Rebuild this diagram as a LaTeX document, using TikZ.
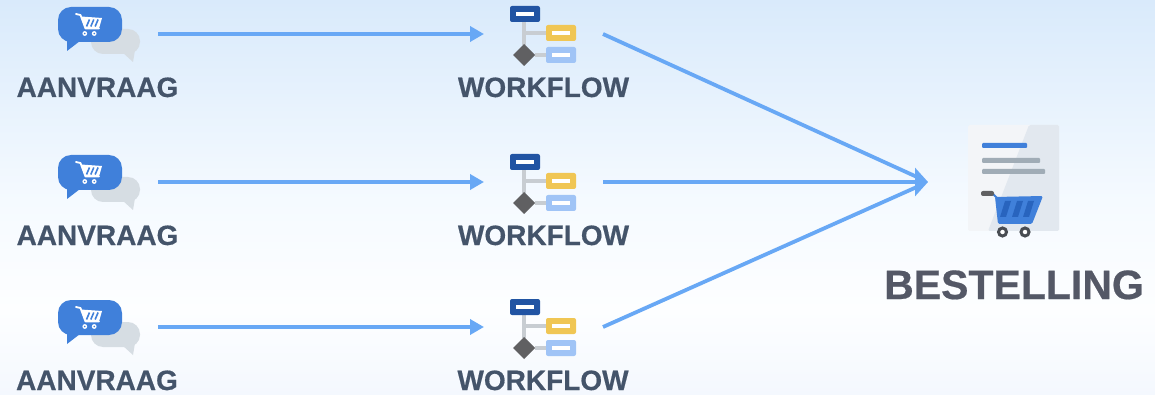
\documentclass[tikz,border=0pt]{standalone}
\usepackage{fontspec}
\setmainfont[BoldFeatures={FakeBold=0.5}]{Liberation Sans}
\usetikzlibrary{arrows.meta}
\definecolor{arrowblue}{RGB}{104,168,245}
\definecolor{cartblue}{RGB}{64,128,218}
\definecolor{slotblue}{RGB}{40,100,190}
\definecolor{bubblegray}{RGB}{214,221,227}
\definecolor{labelslate}{RGB}{68,84,106}
\definecolor{titleslate}{RGB}{84,88,102}
\definecolor{flownavy}{RGB}{33,84,163}
\definecolor{flowyellow}{RGB}{240,198,84}
\definecolor{flowlight}{RGB}{160,196,246}
\definecolor{flowline}{RGB}{200,205,210}
\definecolor{flowdiamond}{RGB}{96,96,98}
\definecolor{docfront}{RGB}{243,245,248}
\definecolor{docback}{RGB}{226,232,239}
\definecolor{docline}{RGB}{160,172,182}
\definecolor{wheelgray}{RGB}{72,76,82}
\definecolor{bgtop}{RGB}{217,234,251}
\definecolor{bgmid}{RGB}{245,250,255}
\definecolor{bglow}{RGB}{253,254,255}
\definecolor{bgbot}{RGB}{244,248,254}
\tikzset{
  x=1pt,y=-1pt,
  slot/.style={inner sep=0pt,outer sep=0pt,draw=none},
  reqbox/.style={slot,minimum width=100pt,minimum height=50pt},
  flowbox/.style={slot,minimum width=119pt,minimum height=50pt},
  docbox/.style={slot,minimum width=136pt,minimum height=50pt},
  lbl/.style={inner sep=0pt,text=labelslate,font=\fontsize{28}{28}\selectfont\bfseries,anchor=base},
  ttl/.style={inner sep=0pt,text=titleslate,font=\fontsize{41}{41}\selectfont\bfseries,anchor=base},
  conn/.style={draw=arrowblue,line width=3.6pt,-{Triangle[length=14pt,width=15pt]}},
  convgtip/.style={draw=arrowblue,line width=3.8pt,-{Triangle[length=13pt,width=28pt]}},
  convg/.style={draw=arrowblue,line width=3.8pt,shorten >=7pt},
  wire/.style={draw=flowline,line width=3.5pt},
  pics/request/.style={code={
    \fill[bubblegray,rounded corners=12pt] (91,29) rectangle (140,54);
    \fill[bubblegray] (122,52) -- (133,62) -- (135,50) -- cycle;
    \fill[cartblue,rounded corners=13pt] (58,7) rectangle (122,42);
    \fill[cartblue] (67,38) -- (67,51) -- (80,41) -- cycle;
    \draw[white,line width=1.8pt,line cap=round,line join=round] (76,14) -- (80.5,15) -- (85.5,28.5) -- (99,28.5);
    \fill[white] (81,16.5) -- (102,18) -- (99,28.5) -- (85,28.5) -- cycle;
    \foreach \sx in {86.5,90.8,95.1} \draw[cartblue,line width=1.6pt] (\sx,26.5) -- (\sx+3,19.5);
    \fill[white] (84.8,33.5) circle (2.4pt) (94.2,33.5) circle (2.4pt);
    \fill[cartblue] (84.8,33.5) circle (0.9pt) (94.2,33.5) circle (0.9pt);
  }},
  pics/workflow/.style={code={
    \draw[wire] (524,22) -- (524,45);
    \draw[wire] (524,33) -- (546,33);
    \draw[wire] (535,55) -- (546,55);
    \fill[flownavy,rounded corners=2pt] (510,6) rectangle (540,22);
    \fill[white] (516,12) rectangle (534,16);
    \fill[flowyellow,rounded corners=2pt] (546,25) rectangle (576,41);
    \fill[white] (552,31) rectangle (570,35);
    \fill[flowlight,rounded corners=2pt] (546,47) rectangle (576,63);
    \fill[white] (552,53) rectangle (570,57);
    \fill[flowdiamond] (513,55) -- (524,44) -- (535,55) -- (524,66) -- cycle;
  }}
}
\begin{document}
\begin{tikzpicture}
\useasboundingbox (0,0) rectangle (1155,395);
% background
\shade[top color=bgtop,bottom color=bgmid] (0,0) rectangle (1155,200);
\shade[top color=bgmid,bottom color=bglow] (0,200) rectangle (1155,310);
\shade[top color=bglow,bottom color=bgbot] (0,310) rectangle (1155,395);
% request and workflow rows
\foreach \rowy in {0,148,293} {
  \pic at (0,\rowy) {request};
  \pic at (0,\rowy) {workflow};
}
\node[reqbox] (req1) at (108,34) {};
\node[reqbox] (req2) at (108,182) {};
\node[reqbox] (req3) at (108,327) {};
\node[flowbox] (flow1) at (543.5,34) {};
\node[flowbox] (flow2) at (543.5,182) {};
\node[flowbox] (flow3) at (543.5,327) {};
\node[lbl] (reqlabel1) at (97.5,97) {AANVRAAG};
\node[lbl] (reqlabel2) at (97.5,245) {AANVRAAG};
\node[lbl] (reqlabel3) at (97,390) {AANVRAAG};
\node[lbl] (flowlabel1) at (543.5,97) {WORKFLOW};
\node[lbl] (flowlabel2) at (543.5,245) {WORKFLOW};
\node[lbl] (flowlabel3) at (543,390) {WORKFLOW};
% document
\node[docbox] (doc) at (996,182) {};
\fill[docfront,rounded corners=1.5pt] (968,125) rectangle (1059,231);
\fill[docback,rounded corners=1.5pt] (1029,125) -- (1059,125) -- (1059,231) -- (988,231) -- cycle;
\fill[cartblue,rounded corners=1pt] (982,143) rectangle (1027,148);
\fill[docline,rounded corners=1pt] (982,158) rectangle (1040,163);
\fill[docline,rounded corners=1pt] (982,169) rectangle (1045,174);
\draw[cartblue,line width=2pt] (992,193) -- (998,199);
\fill[cartblue,rounded corners=1.5pt] (995,197) -- (1043,196) -- (1032,224) -- (998,224) -- cycle;
\foreach \sx in {1000,1012,1023} \fill[slotblue] (\sx,217) -- (\sx+5,201) -- (\sx+11,201) -- (\sx+6,217) -- cycle;
\fill[flowdiamond,rounded corners=2pt] (981,191) rectangle (994,196);
\draw[wheelgray,line width=3pt,fill=white] (1002.5,232) circle (4pt);
\draw[wheelgray,line width=3pt,fill=white] (1025,232) circle (4pt);
\node[ttl] (doclabel) at (1014,299) {BESTELLING};
% connectors
\draw[conn] (req1.east) -- (flow1.west);
\draw[conn] (req2.east) -- (flow2.west);
\draw[conn] (req3.east) -- (flow3.west);
\draw[convg] (flow1.east) -- (doc.west);
\draw[convg] (flow3.east) -- (doc.west);
\draw[convgtip] (flow2.east) -- (doc.west);
\end{tikzpicture}
\end{document}
